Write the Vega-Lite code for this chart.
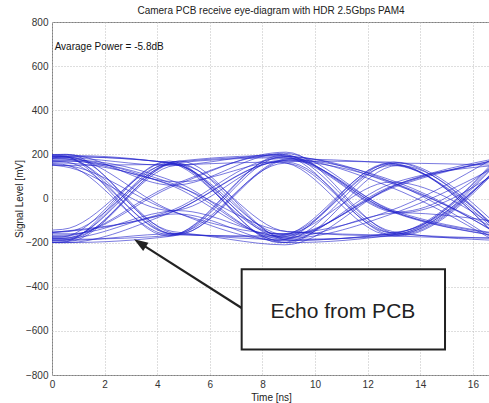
{
  "$schema": "https://vega.github.io/schema/vega-lite/v6.json",
  "width": 438,
  "height": 353,
  "autosize": {"type": "none"},
  "padding": {"left": 52, "top": 22, "right": 0, "bottom": 28},
  "background": "white",
  "title": {
    "text": "Camera PCB receive eye-diagram with HDR 2.5Gbps PAM4",
    "fontSize": 10,
    "fontWeight": "normal",
    "font": "Liberation Sans",
    "color": "#222",
    "anchor": "middle",
    "offset": 1
  },
  "config": {
    "view": {"stroke": "#808080", "strokeWidth": 1},
    "axis": {
      "labelFont": "Liberation Sans",
      "titleFont": "Liberation Sans",
      "labelFontSize": 10,
      "titleFontSize": 10,
      "titleFontWeight": "normal",
      "labelColor": "#333",
      "titleColor": "#222",
      "domain": false,
      "ticks": false,
      "tickSize": 0,
      "grid": true,
      "gridColor": "#bdbdbd",
      "gridDash": [1, 2],
      "gridWidth": 1,
      "labelFlush": false,
      "labelOverlap": false
    }
  },
  "layer": [
    {
      "data": {
        "values": [
          {"t":1,"x":-3.6,"y":-170},{"t":1,"x":0.5,"y":190},{"t":1,"x":4.6,"y":160},{"t":1,"x":8.8,"y":-180},{"t":1,"x":13.0,"y":60},{"t":1,"x":17.0,"y":170},
          {"t":2,"x":-3.4,"y":150},{"t":2,"x":0.7,"y":175},{"t":2,"x":4.8,"y":70},{"t":2,"x":9.0,"y":-200},{"t":2,"x":13.2,"y":-160},{"t":2,"x":17.2,"y":160},
          {"t":3,"x":-3.7,"y":-180},{"t":3,"x":0.4,"y":-190},{"t":3,"x":4.5,"y":165},{"t":3,"x":8.7,"y":195},{"t":3,"x":12.9,"y":-60},{"t":3,"x":16.9,"y":-170},
          {"t":4,"x":-3.5,"y":180},{"t":4,"x":0.6,"y":200},{"t":4,"x":4.7,"y":-165},{"t":4,"x":8.9,"y":-170},{"t":4,"x":13.1,"y":60},{"t":4,"x":17.1,"y":180},
          {"t":5,"x":-3.8,"y":-160},{"t":5,"x":0.3,"y":-150},{"t":5,"x":4.4,"y":-60},{"t":5,"x":8.6,"y":180},{"t":5,"x":12.8,"y":160},{"t":5,"x":16.8,"y":-120},
          {"t":6,"x":-3.45,"y":170},{"t":6,"x":0.65,"y":160},{"t":6,"x":4.75,"y":55},{"t":6,"x":8.95,"y":-150},{"t":6,"x":13.15,"y":-170},{"t":6,"x":17.15,"y":160},
          {"t":7,"x":-3.6,"y":-190},{"t":7,"x":0.5,"y":-200},{"t":7,"x":4.6,"y":-170},{"t":7,"x":8.8,"y":190},{"t":7,"x":13.0,"y":70},{"t":7,"x":17.0,"y":-200},
          {"t":8,"x":-3.75,"y":160},{"t":8,"x":0.35,"y":185},{"t":8,"x":4.45,"y":150},{"t":8,"x":8.65,"y":200},{"t":8,"x":12.85,"y":-55},{"t":8,"x":16.85,"y":-160},
          {"t":9,"x":-3.35,"y":-150},{"t":9,"x":0.75,"y":-175},{"t":9,"x":4.85,"y":170},{"t":9,"x":9.05,"y":-190},{"t":9,"x":13.25,"y":-150},{"t":9,"x":17.25,"y":170},
          {"t":10,"x":-3.65,"y":180},{"t":10,"x":0.45,"y":145},{"t":10,"x":4.55,"y":-55},{"t":10,"x":8.75,"y":170},{"t":10,"x":12.95,"y":165},{"t":10,"x":16.95,"y":-150},
          {"t":11,"x":-3.5,"y":-170},{"t":11,"x":0.6,"y":-165},{"t":11,"x":4.7,"y":60},{"t":11,"x":8.9,"y":210},{"t":11,"x":13.1,"y":-160},{"t":11,"x":17.1,"y":-180},
          {"t":12,"x":-3.8,"y":190},{"t":12,"x":0.3,"y":195},{"t":12,"x":4.4,"y":-170},{"t":12,"x":8.6,"y":185},{"t":12,"x":12.8,"y":55},{"t":12,"x":16.8,"y":-190},
          {"t":13,"x":-3.55,"y":-180},{"t":13,"x":0.55,"y":-190},{"t":13,"x":4.65,"y":-160},{"t":13,"x":8.85,"y":-210},{"t":13,"x":13.05,"y":60},{"t":13,"x":17.05,"y":185},
          {"t":14,"x":-3.4,"y":150},{"t":14,"x":0.7,"y":170},{"t":14,"x":4.8,"y":75},{"t":14,"x":9.0,"y":175},{"t":14,"x":13.2,"y":-65},{"t":14,"x":17.2,"y":140},
          {"t":15,"x":-3.7,"y":-160},{"t":15,"x":0.4,"y":-140},{"t":15,"x":4.5,"y":155},{"t":15,"x":8.7,"y":-165},{"t":15,"x":12.9,"y":75},{"t":15,"x":16.9,"y":-130},
          {"t":16,"x":-3.6,"y":170},{"t":16,"x":0.5,"y":180},{"t":16,"x":4.6,"y":-150},{"t":16,"x":8.8,"y":-185},{"t":16,"x":13.0,"y":-170},{"t":16,"x":17.0,"y":170},
          {"t":17,"x":-3.45,"y":-190},{"t":17,"x":0.65,"y":-180},{"t":17,"x":4.75,"y":-70},{"t":17,"x":8.95,"y":-200},{"t":17,"x":13.15,"y":150},{"t":17,"x":17.15,"y":-170},
          {"t":18,"x":-3.85,"y":160},{"t":18,"x":0.25,"y":190},{"t":18,"x":4.35,"y":165},{"t":18,"x":8.55,"y":-160},{"t":18,"x":12.75,"y":-60},{"t":18,"x":16.75,"y":180},
          {"t":19,"x":-3.5,"y":-170},{"t":19,"x":0.6,"y":-195},{"t":19,"x":4.7,"y":150},{"t":19,"x":8.9,"y":165},{"t":19,"x":13.1,"y":-160},{"t":19,"x":17.1,"y":160},
          {"t":20,"x":-3.7,"y":180},{"t":20,"x":0.4,"y":155},{"t":20,"x":4.5,"y":-165},{"t":20,"x":8.7,"y":195},{"t":20,"x":12.9,"y":-155},{"t":20,"x":16.9,"y":160},
          {"t":21,"x":-3.4,"y":-150},{"t":21,"x":0.7,"y":-160},{"t":21,"x":4.8,"y":-55},{"t":21,"x":9.0,"y":-175},{"t":21,"x":13.2,"y":-65},{"t":21,"x":17.2,"y":-110},
          {"t":22,"x":-3.6,"y":170},{"t":22,"x":0.5,"y":200},{"t":22,"x":4.6,"y":60},{"t":22,"x":8.8,"y":205},{"t":22,"x":13.0,"y":-60},{"t":22,"x":17.0,"y":-170},
          {"t":23,"x":-3.75,"y":-180},{"t":23,"x":0.35,"y":-175},{"t":23,"x":4.45,"y":170},{"t":23,"x":8.65,"y":-200},{"t":23,"x":12.85,"y":65},{"t":23,"x":16.85,"y":150},
          {"t":24,"x":-3.55,"y":190},{"t":24,"x":0.55,"y":165},{"t":24,"x":4.65,"y":-160},{"t":24,"x":8.85,"y":160},{"t":24,"x":13.05,"y":-170},{"t":24,"x":17.05,"y":-180},
          {"t":25,"x":-3.4,"y":-160},{"t":25,"x":0.7,"y":-185},{"t":25,"x":4.8,"y":-165},{"t":25,"x":9.0,"y":180},{"t":25,"x":13.2,"y":-60},{"t":25,"x":17.2,"y":190},
          {"t":26,"x":-3.8,"y":150},{"t":26,"x":0.3,"y":180},{"t":26,"x":4.4,"y":65},{"t":26,"x":8.6,"y":-170},{"t":26,"x":12.8,"y":155},{"t":26,"x":16.8,"y":-140},
          {"t":27,"x":-3.5,"y":-170},{"t":27,"x":0.6,"y":-150},{"t":27,"x":4.7,"y":165},{"t":27,"x":8.9,"y":190},{"t":27,"x":13.1,"y":60},{"t":27,"x":17.1,"y":-150},
          {"t":28,"x":-3.65,"y":180},{"t":28,"x":0.45,"y":190},{"t":28,"x":4.55,"y":-55},{"t":28,"x":8.75,"y":-190},{"t":28,"x":12.95,"y":-160},{"t":28,"x":16.95,"y":175},
          {"t":29,"x":-3.6,"y":-190},{"t":29,"x":0.5,"y":-200},{"t":29,"x":4.6,"y":-60},{"t":29,"x":8.8,"y":170},{"t":29,"x":13.0,"y":70},{"t":29,"x":17.0,"y":-160},
          {"t":30,"x":-3.45,"y":160},{"t":30,"x":0.65,"y":150},{"t":30,"x":4.75,"y":155},{"t":30,"x":8.95,"y":-150},{"t":30,"x":13.15,"y":-165},{"t":30,"x":17.15,"y":170},
          {"t":31,"x":-3.6,"y":-170},{"t":31,"x":0.5,"y":-180},{"t":31,"x":4.6,"y":160},{"t":31,"x":8.8,"y":185},{"t":31,"x":13.0,"y":-55},{"t":31,"x":17.0,"y":-160},
          {"t":32,"x":-3.45,"y":-160},{"t":32,"x":0.65,"y":-185},{"t":32,"x":4.75,"y":160},{"t":32,"x":8.95,"y":-180},{"t":32,"x":13.15,"y":-60},{"t":32,"x":17.15,"y":160},
          {"t":33,"x":-3.7,"y":180},{"t":33,"x":0.4,"y":190},{"t":33,"x":4.5,"y":-160},{"t":33,"x":8.7,"y":-175},{"t":33,"x":12.9,"y":150},{"t":33,"x":16.9,"y":-170},
          {"t":34,"x":-3.55,"y":150},{"t":34,"x":0.55,"y":170},{"t":34,"x":4.65,"y":65},{"t":34,"x":8.85,"y":-185},{"t":34,"x":13.05,"y":160},{"t":34,"x":17.05,"y":150},
          {"t":35,"x":-3.65,"y":-170},{"t":35,"x":0.45,"y":-170},{"t":35,"x":4.55,"y":60},{"t":35,"x":8.75,"y":200},{"t":35,"x":12.95,"y":-150},{"t":35,"x":16.95,"y":-190},
          {"t":36,"x":-3.4,"y":170},{"t":36,"x":0.7,"y":185},{"t":36,"x":4.8,"y":-160},{"t":36,"x":9.0,"y":175},{"t":36,"x":13.2,"y":70},{"t":36,"x":17.2,"y":-180},
          {"t":37,"x":-3.75,"y":-180},{"t":37,"x":0.35,"y":-150},{"t":37,"x":4.45,"y":-65},{"t":37,"x":8.65,"y":165},{"t":37,"x":12.85,"y":-165},{"t":37,"x":16.85,"y":175},
          {"t":38,"x":-3.5,"y":160},{"t":38,"x":0.6,"y":195},{"t":38,"x":4.7,"y":155},{"t":38,"x":8.9,"y":-165},{"t":38,"x":13.1,"y":55},{"t":38,"x":17.1,"y":180},
          {"t":39,"x":-3.8,"y":-170},{"t":39,"x":0.3,"y":-200},{"t":39,"x":4.4,"y":165},{"t":39,"x":8.6,"y":-190},{"t":39,"x":12.8,"y":160},{"t":39,"x":16.8,"y":-160},
          {"t":40,"x":-3.6,"y":170},{"t":40,"x":0.5,"y":150},{"t":40,"x":4.6,"y":-60},{"t":40,"x":8.8,"y":-160},{"t":40,"x":13.0,"y":165},{"t":40,"x":17.0,"y":-130}
        ]
      },
      "mark": {"type": "line", "interpolate": "monotone", "clip": true, "color": "#2222cc", "strokeWidth": 1, "opacity": 0.6},
      "encoding": {
        "x": {
          "field": "x", "type": "quantitative",
          "scale": {"domain": [0, 16.65], "nice": false, "zero": false},
          "axis": {"values": [0, 2, 4, 6, 8, 10, 12, 14, 16], "title": "Time [ns]", "labelPadding": 4, "titlePadding": 3}
        },
        "y": {
          "field": "y", "type": "quantitative",
          "scale": {"domain": [-800, 800], "nice": false, "zero": false},
          "axis": {"values": [-800, -600, -400, -200, 0, 200, 400, 600, 800], "title": "Signal Level [mV]", "labelPadding": 4, "titlePadding": 1}
        },
        "detail": {"field": "t", "type": "nominal"}
      }
    },
    {
      "data": {"values": [{"x": 0.1, "y": 687, "label": "Avarage Power = -5.8dB"}]},
      "mark": {"type": "text", "align": "left", "baseline": "middle", "fontSize": 10, "font": "Liberation Sans", "color": "#111"},
      "encoding": {
        "x": {"field": "x", "type": "quantitative"},
        "y": {"field": "y", "type": "quantitative"},
        "text": {"field": "label"}
      }
    },
    {
      "data": {"values": [{"x": 7.21, "y": -496.5}, {"x": 3.342, "y": -202.3}]},
      "mark": {"type": "line", "color": "#222", "strokeWidth": 2.2},
      "encoding": {
        "x": {"field": "x", "type": "quantitative"},
        "y": {"field": "y", "type": "quantitative"}
      }
    },
    {
      "data": {"values": [{"x": 3.342, "y": -202.3}]},
      "mark": {"type": "point", "shape": "M0,-1L0.7,1L-0.7,1Z", "filled": true, "color": "#222", "opacity": 1, "size": 196, "angle": 302.5},
      "encoding": {
        "x": {"field": "x", "type": "quantitative"},
        "y": {"field": "y", "type": "quantitative"}
      }
    },
    {
      "data": {"values": [{"x1": 7.21, "x2": 14.94, "y1": -321, "y2": -684, "label": "Echo from PCB", "cx": 11.06, "cy": -543}]},
      "layer": [
        {
          "mark": {"type": "rect", "fill": "white", "stroke": "#222", "strokeWidth": 2},
          "encoding": {
            "x": {"field": "x1", "type": "quantitative"},
            "x2": {"field": "x2"},
            "y": {"field": "y1", "type": "quantitative"},
            "y2": {"field": "y2"}
          }
        },
        {
          "mark": {"type": "text", "align": "center", "baseline": "alphabetic", "fontSize": 21, "font": "Liberation Sans", "color": "#222"},
          "encoding": {
            "x": {"field": "cx", "type": "quantitative"},
            "y": {"field": "cy", "type": "quantitative"},
            "text": {"field": "label"}
          }
        }
      ]
    }
  ]
}
